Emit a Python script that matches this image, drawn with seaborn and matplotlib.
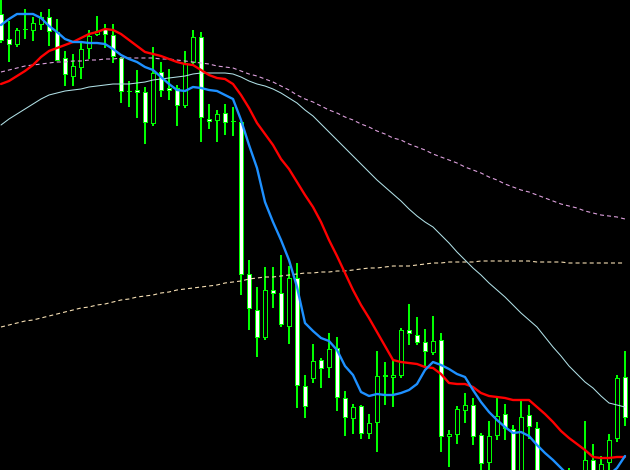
import numpy as np
import pandas as pd
import matplotlib
matplotlib.use("Agg")
import matplotlib.pyplot as plt
import seaborn as sns

# ---- candle data (price units) ----
opens = [456, 431, 425, 440, 439, 445, 453, 438, 412, 393,
         402, 421, 435, 441, 435, 412, 378, 380, 378, 346,
         398, 382, 382, 364, 407, 433, 351, 349, 357, 348,
         348, 196, 160, 132, 180, 177, 143, 192, 84, 91,
         110, 102, 122, 72, 51, 64, 36, 47, 95, 92,
         94, 140, 135, 128, 117, 130, 33, 35, 59, 65,
         35, 7, 34, 56, 41, -8, 55, 42, -10, -22,
         -15, -25, -20, -8, 10, -5, 7, 31, 93]
highs = [475, 449, 442, 461, 453, 458, 461, 451, 419, 416,
         427, 440, 454, 446, 446, 413, 389, 400, 383, 423,
         408, 401, 385, 419, 440, 438, 366, 360, 366, 363,
         349, 210, 183, 203, 203, 215, 204, 207, 95, 126,
         112, 137, 133, 79, 66, 65, 56, 119, 108, 110,
         142, 166, 153, 141, 154, 137, 40, 64, 77, 72,
         37, 49, 73, 66, 45, 71, 65, 48, -4, -8,
         -5, 2, -6, 49, 26, 14, 36, 95, 119]
lows = [427, 408, 423, 431, 429, 440, 424, 409, 384, 384,
        391, 411, 434, 422, 407, 367, 363, 352, 326, 344,
        373, 370, 344, 362, 404, 328, 341, 328, 335, 334,
        175, 140, 113, 130, 162, 143, 126, 62, 52, 87,
        82, 92, 59, 34, 36, 31, 31, 18, 65, 63,
        92, 125, 125, 102, 115, 18, 3, 26, 47, 25,
        -5, -8, 30, 30, -15, -15, 31, -20, -30, -35,
        -30, -35, -30, -12, -10, -10, -2, 28, 44]
closes = [429, 425, 440, 440, 447, 453, 438, 409, 395, 404,
          421, 434, 439, 435, 413, 378, 378, 377, 347, 397,
          379, 379, 364, 407, 433, 352, 348, 356, 347, 348,
          195, 161, 132, 180, 176, 145, 192, 84, 63, 109,
          101, 121, 72, 52, 63, 36, 47, 94, 93, 95,
          140, 136, 127, 118, 129, 33, 36, 61, 65, 33,
          6, 34, 54, 41, -8, 53, 43, -10, -22, -15,
          -25, -20, -12, 10, -5, 6, 30, 92, 52]

# ---- moving averages (read per bar) ----
ma_blue = [445, 451, 456, 456, 456, 452, 444, 438, 431, 428,
           428, 427, 427, 426, 421, 415, 411, 408, 403, 400,
           393, 386, 380, 379, 383, 382, 380, 379, 375, 371,
           350, 325, 302, 268, 248, 230, 210, 183, 147, 139,
           132, 129, 120, 104, 95, 78, 74, 76, 75, 75,
           77, 80, 86, 100, 108, 105, 101, 96, 93, 80,
           68, 58, 50, 43, 37, 38, 34, 25, 17, 10,
           2, -6, -12, -16, -15, -12, -5, 2, 14]
ma_red = [386, 389, 394, 399, 405, 413, 419, 422, 425, 428,
          432, 436, 438, 441, 440, 436, 430, 424, 418, 416,
          414, 411, 408, 406, 405, 400, 395, 392, 391, 386,
          375, 362, 347, 336, 325, 311, 301, 288, 275, 263,
          248, 230, 214, 197, 180, 165, 152, 138, 124, 110,
          108, 107, 106, 103, 102, 96, 87, 86, 86, 83,
          77, 74, 73, 72, 70, 70, 70, 63, 56, 48,
          39, 32, 26, 20, 13, 12, 12, 13, 13]
ma_lightblue = [345, 351, 356, 361, 366, 371, 375, 377, 379, 380,
                381, 383, 384, 385, 386, 386, 386, 387, 388, 390,
                391, 392, 393, 394, 396, 397, 397, 397, 397, 396,
                393, 389, 386, 384, 381, 377, 372, 367, 360, 354,
                346, 338, 330, 322, 314, 306, 298, 290, 283, 276,
                269, 261, 254, 248, 243, 235, 227, 218, 210, 202,
                195, 187, 180, 173, 165, 157, 150, 143, 133, 123,
                114, 104, 96, 88, 82, 74, 67, 65, 63]
ma_plum = [398, 400, 402, 404, 405, 406, 407, 408, 408, 409,
           409, 410, 410, 411, 411, 412, 412, 412, 412, 412,
           411, 411, 410, 409, 408, 407, 406, 404, 403, 402,
           399, 396, 394, 391, 388, 384, 380, 375, 371, 368,
           364, 360, 357, 353, 350, 346, 343, 339, 336, 332,
           330, 326, 323, 320, 316, 313, 310, 307, 303, 300,
           297, 293, 290, 286, 283, 280, 278, 275, 272, 269,
           266, 264, 262, 259, 257, 255, 254, 253, 251]
ma_wheat = [143, 145, 147, 149, 150, 152, 154, 156, 158, 160,
            162, 163, 165, 166, 168, 170, 171, 173, 174, 175,
            177, 178, 180, 181, 182, 183, 184, 185, 187, 188,
            189, 191, 192, 193, 193, 194, 195, 196, 197, 197,
            198, 198, 199, 199, 200, 201, 202, 202, 203, 204,
            204, 204, 205, 206, 207, 207, 208, 208, 208, 208,
            209, 209, 209, 209, 209, 209, 209, 208, 208, 208,
            208, 207, 207, 207, 207, 207, 207, 207, 207]

sns.set_theme(style="dark")
plt.rcParams["lines.scale_dashes"] = False
plt.rcParams["figure.facecolor"] = "black"
plt.rcParams["axes.facecolor"] = "black"

fig = plt.figure(figsize=(6.3, 4.7), dpi=100)
ax = fig.add_axes([0, 0, 1, 1])
ax.set_facecolor("black")

n = len(opens)
x = np.arange(n)
o = np.array(opens, float)
c = np.array(closes, float)
h = np.array(highs, float)
l = np.array(lows, float)

# axis scale: 8 px per bar horizontally, 1 px per price unit vertically
XPX = 1 / 8.0
green = "#00ff00"
# wicks (1 px wide)
ax.bar(x, h - l, bottom=l, width=1.1 * XPX, color=green, linewidth=0,
       antialiased=False, zorder=2)
# bodies: green frame, then white (bear) / black (bull) interior
bottoms = np.minimum(o, c)
heights = np.maximum(np.abs(c - o), 1.0)
ax.bar(x, heights, bottom=bottoms, width=5 * XPX, color=green, linewidth=0,
       antialiased=False, zorder=3)
fills = ["white" if cc < oo else "black" for oo, cc in zip(o, c)]
inner_h = np.maximum(heights - 2.0, 0.0)
ax.bar(x, inner_h, bottom=bottoms + 1.0, width=3 * XPX, color=fills,
       linewidth=0, antialiased=False, zorder=3.5)

names = ["wheat", "plum", "lightblue", "red", "blue"]
series = [ma_wheat, ma_plum, ma_lightblue, ma_red, ma_blue]
df = pd.concat([pd.DataFrame({"bar": x, "value": s, "line": nm})
                for nm, s in zip(names, series)], ignore_index=True)
palette = {"wheat": "#f5deb3", "plum": "#dda0dd", "lightblue": "#b0e0e6",
           "red": "#ff0000", "blue": "#1e90ff"}
dashes = {"wheat": (2.9, 2.2), "plum": (2.9, 2.2), "lightblue": "",
          "red": "", "blue": ""}
sizes = {"wheat": 0.8, "plum": 0.8, "lightblue": 0.75,
         "red": 1.7, "blue": 1.7}
sns.lineplot(data=df, x="bar", y="value", hue="line", style="line",
             size="line", palette=palette, dashes=dashes, sizes=sizes,
             hue_order=names, style_order=names, size_order=names,
             estimator=None, sort=False, legend=False, ax=ax, zorder=4)

ax.set_xlim(-0.125, 78.625)
ax.set_ylim(0, 470)
ax.set_xticks([])
ax.set_yticks([])
ax.set_xlabel("")
ax.set_ylabel("")
for sp in ax.spines.values():
    sp.set_visible(False)

fig.savefig("out.png", dpi=100, facecolor="black")
